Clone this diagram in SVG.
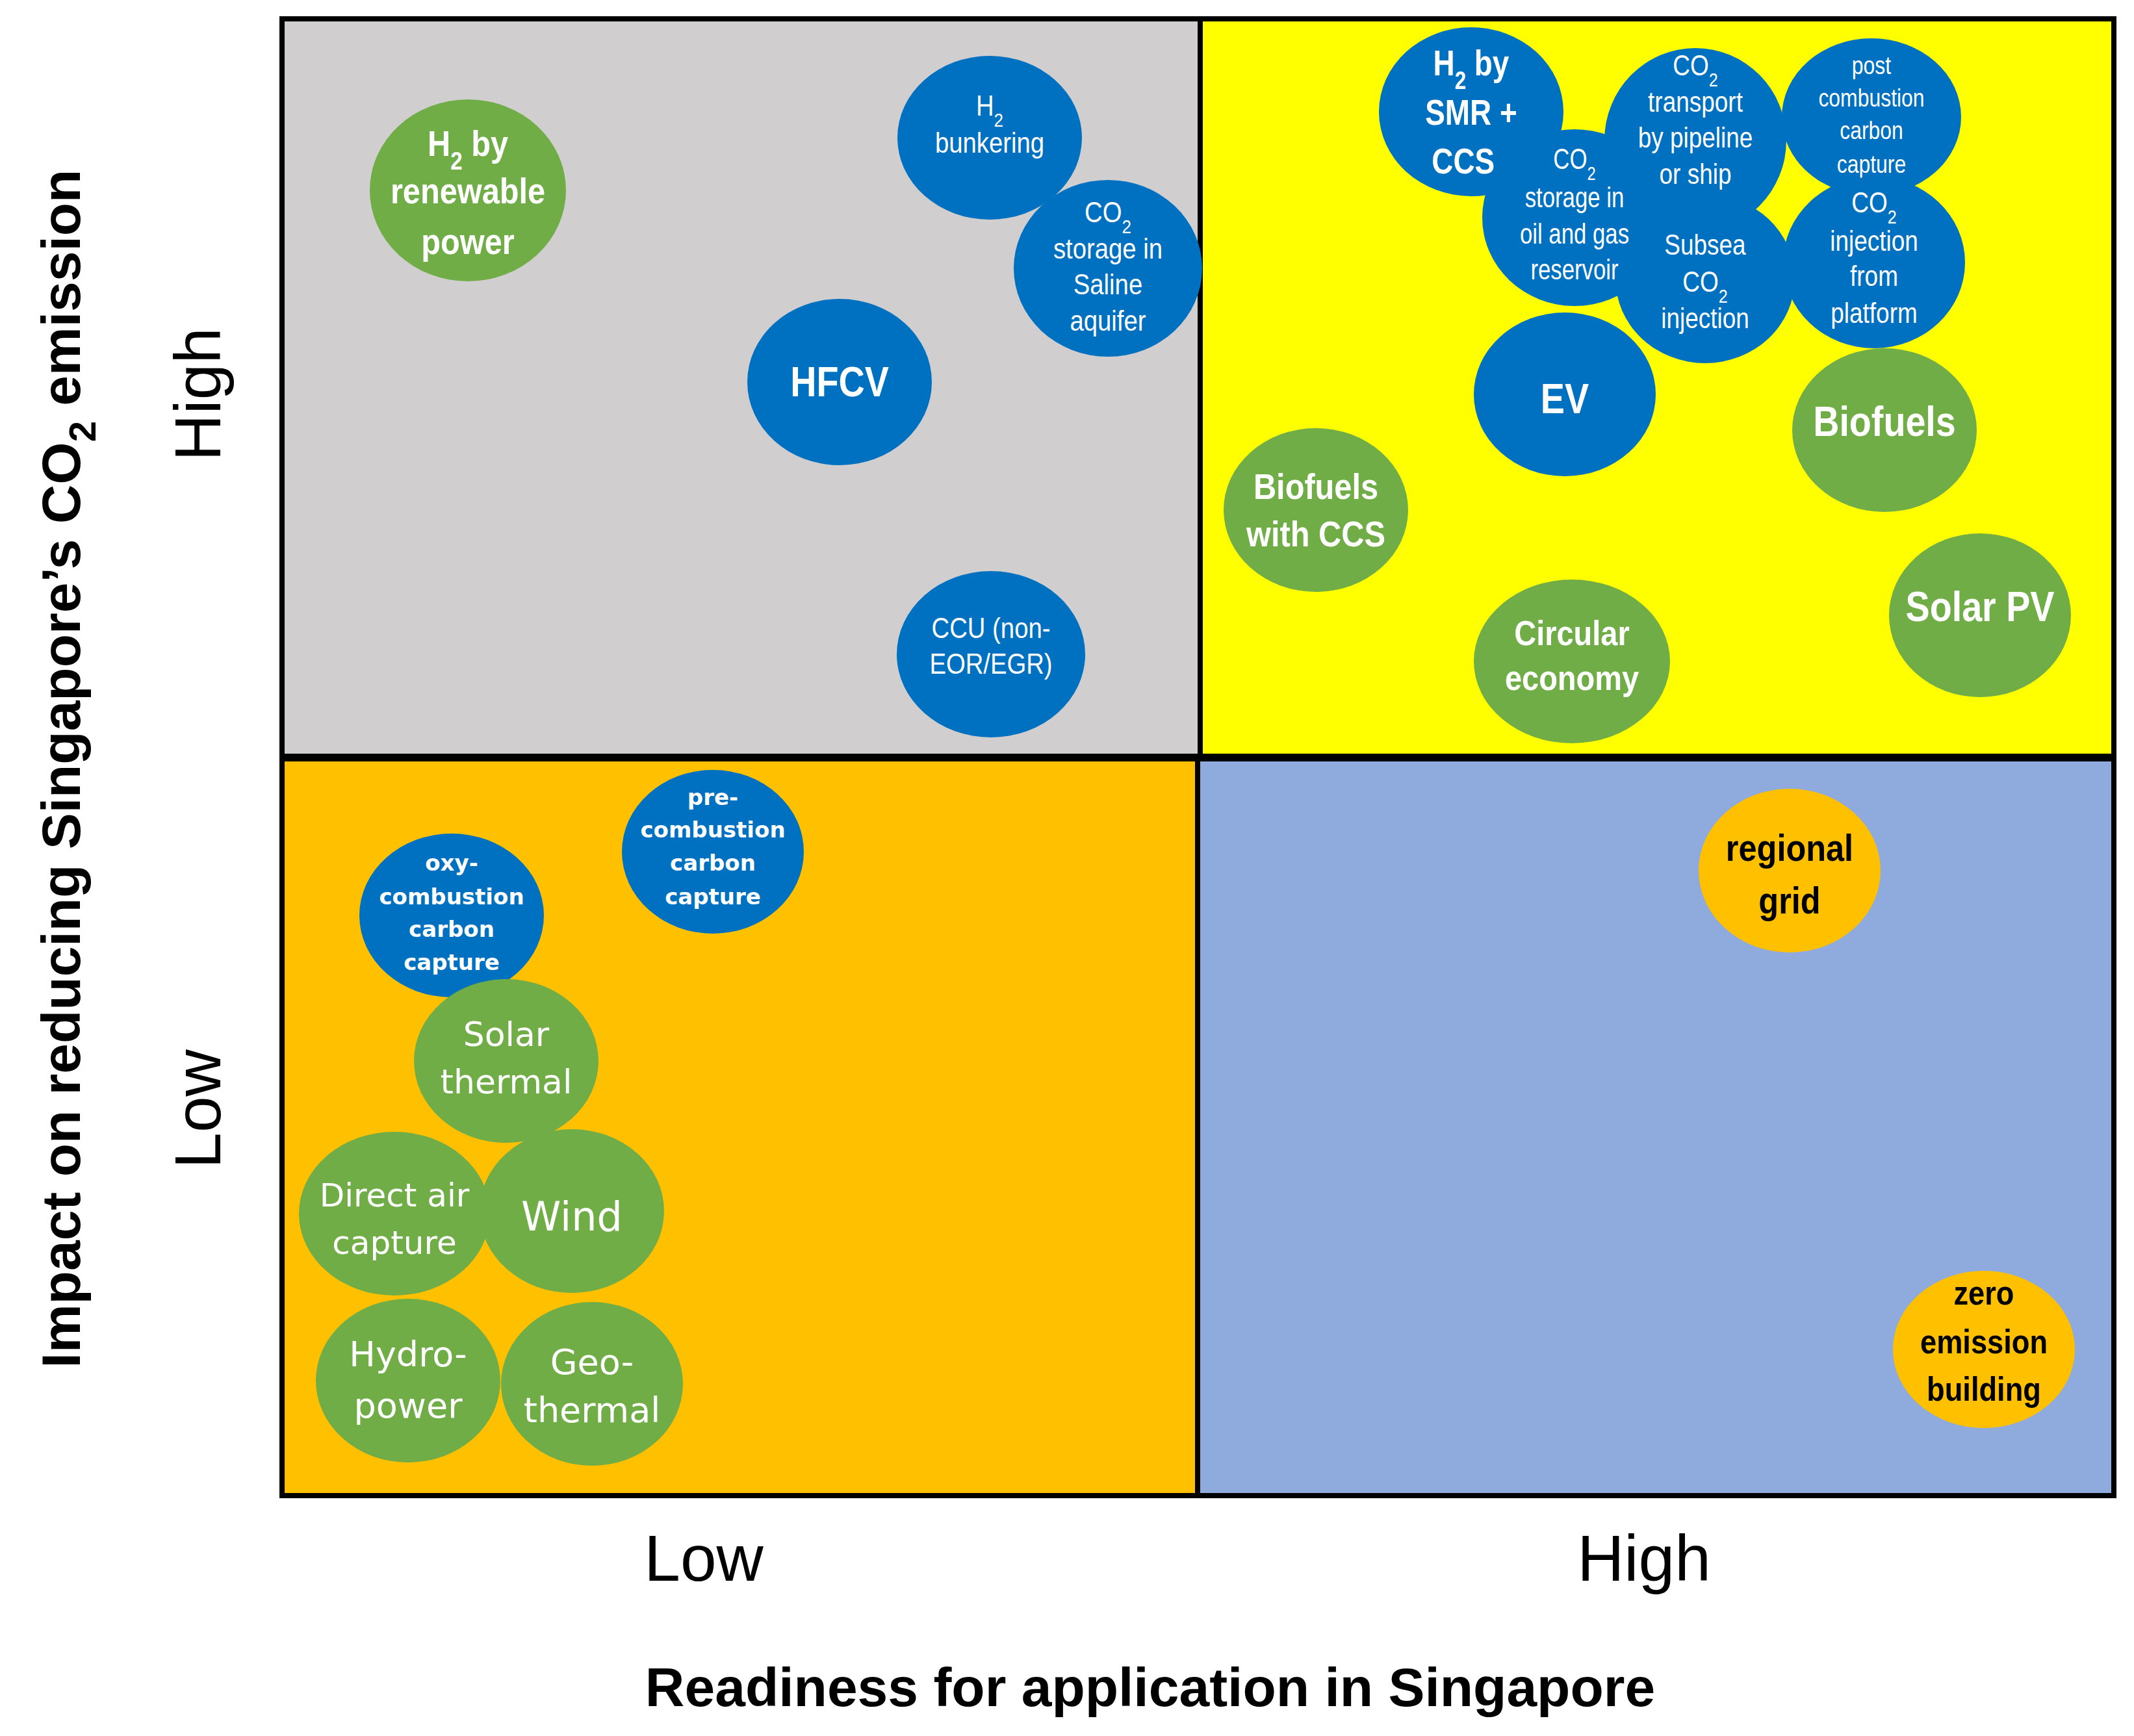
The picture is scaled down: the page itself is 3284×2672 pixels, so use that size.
<svg xmlns="http://www.w3.org/2000/svg" width="3284" height="2672" viewBox="0 0 3284 2672">
<style>
.q{stroke:#000;stroke-width:8}
.g{fill:#70AD47}.b{fill:#0070C0}.o{fill:#FFC000}
text{font-family:"Liberation Sans",Arial,sans-serif;fill:#fff;text-anchor:middle}
.w{font-family:"DejaVu Sans","Liberation Sans",sans-serif}
.k{fill:#000;font-weight:bold}
.ax{fill:#000;font-family:"Liberation Sans",Arial,sans-serif}
</style>
<rect width="3284" height="2672" fill="#fff"/>
<g id="quadrants">
<rect class="q" x="434" y="29" width="1413" height="1135" fill="#D0CECE"/>
<rect class="q" x="1847" y="29" width="1406" height="1135" fill="#FFFF00"/>
<rect class="q" x="434" y="1168" width="1409" height="1134" fill="#FFC000"/>
<rect class="q" x="1843" y="1168" width="1410" height="1134" fill="#8FAADC"/>
</g>
<g id="n1"><ellipse class="g" cx="720" cy="293" rx="151" ry="140"/><g transform="translate(720 0) scale(0.87 1)"><text font-size="56" font-weight="bold"><tspan x="0" y="240">H<tspan baseline-shift="sub" font-size="38">2</tspan> by</tspan><tspan x="0" y="313">renewable</tspan><tspan x="0" y="391">power</tspan></text></g></g>
<g id="n2"><ellipse class="b" cx="1523" cy="212" rx="142" ry="126"/><g transform="translate(1523 0) scale(0.87 1)"><text font-size="44"><tspan x="0" y="178">H<tspan baseline-shift="sub" font-size="30">2</tspan></tspan><tspan x="0" y="235">bunkering</tspan></text></g></g>
<g id="n3"><ellipse class="b" cx="1705" cy="413" rx="145" ry="136"/><g transform="translate(1705 0) scale(0.87 1)"><text font-size="44"><tspan x="0" y="342">CO<tspan baseline-shift="sub" font-size="30">2</tspan></tspan><tspan x="0" y="398">storage in</tspan><tspan x="0" y="453">Saline</tspan><tspan x="0" y="509">aquifer</tspan></text></g></g>
<g id="n4"><ellipse class="b" cx="1292" cy="588" rx="142" ry="128"/><g transform="translate(1292 0) scale(0.87 1)"><text font-size="64" font-weight="bold" x="0" y="610">HFCV</text></g></g>
<g id="n5"><ellipse class="b" cx="1525" cy="1007" rx="145" ry="128"/><g transform="translate(1525 0) scale(0.87 1)"><text font-size="44"><tspan x="0" y="982">CCU (non-</tspan><tspan x="0" y="1037">EOR/EGR)</tspan></text></g></g>
<g id="n7"><ellipse class="b" cx="2609" cy="216" rx="140" ry="142"/><g transform="translate(2609 0) scale(0.84 1)"><text font-size="44"><tspan x="0" y="116">CO<tspan baseline-shift="sub" font-size="30">2</tspan></tspan><tspan x="0" y="172">transport</tspan><tspan x="0" y="227">by pipeline</tspan><tspan x="0" y="283">or ship</tspan></text></g></g>
<g id="n8"><ellipse class="b" cx="2880" cy="180" rx="138" ry="121"/><g transform="translate(2880 0) scale(0.84 1)"><text font-size="38"><tspan x="0" y="114">post</tspan><tspan x="0" y="164">combustion</tspan><tspan x="0" y="214">carbon</tspan><tspan x="0" y="266">capture</tspan></text></g></g>
<g id="n10"><ellipse class="b" cx="2624" cy="429" rx="138" ry="130"/><g transform="translate(2624 0) scale(0.84 1)"><text font-size="44"><tspan x="0" y="392">Subsea</tspan><tspan x="0" y="449">CO<tspan baseline-shift="sub" font-size="30">2</tspan></tspan><tspan x="0" y="505">injection</tspan></text></g></g>
<g id="n11"><ellipse class="b" cx="2884" cy="404" rx="140" ry="132"/><g transform="translate(2884 0) scale(0.84 1)"><text font-size="44"><tspan x="0" y="327">CO<tspan baseline-shift="sub" font-size="30">2</tspan></tspan><tspan x="0" y="386">injection</tspan><tspan x="0" y="440">from</tspan><tspan x="0" y="497">platform</tspan></text></g></g>
<g id="n9"><ellipse class="b" cx="2423" cy="335" rx="142" ry="136"/><g transform="translate(2423 0) scale(0.79 1)"><text font-size="44"><tspan x="0" y="260">CO<tspan baseline-shift="sub" font-size="30">2</tspan></tspan><tspan x="0" y="319">storage in</tspan><tspan x="0" y="375">oil and gas</tspan><tspan x="0" y="430">reservoir</tspan></text></g></g>
<g id="n6"><ellipse class="b" cx="2264" cy="172" rx="142" ry="130"/><g transform="translate(2264 0) scale(0.82 1)"><text font-size="56" font-weight="bold"><tspan x="0" y="116">H<tspan baseline-shift="sub" font-size="38">2</tspan> by</tspan><tspan x="0" y="192">SMR +</tspan><tspan x="-15" y="267">CCS</tspan></text></g></g>
<g id="n12"><ellipse class="b" cx="2408" cy="607" rx="140" ry="126"/><g transform="translate(2408 0) scale(0.87 1)"><text font-size="64" font-weight="bold" x="0" y="636">EV</text></g></g>
<g id="n13"><ellipse class="g" cx="2900" cy="662" rx="142" ry="126"/><g transform="translate(2900 0) scale(0.87 1)"><text font-size="64" font-weight="bold" x="0" y="671">Biofuels</text></g></g>
<g id="n14"><ellipse class="g" cx="2025" cy="785" rx="142" ry="126"/><g transform="translate(2025 0) scale(0.87 1)"><text font-size="56" font-weight="bold"><tspan x="0" y="768">Biofuels</tspan><tspan x="0" y="841">with CCS</tspan></text></g></g>
<g id="n15"><ellipse class="g" cx="2419" cy="1018" rx="151" ry="126"/><g transform="translate(2419 0) scale(0.87 1)"><text font-size="54" font-weight="bold"><tspan x="0" y="993">Circular</tspan><tspan x="0" y="1062">economy</tspan></text></g></g>
<g id="n16"><ellipse class="g" cx="3047" cy="947" rx="140" ry="126"/><g transform="translate(3047 0) scale(0.87 1)"><text font-size="64" font-weight="bold" x="0" y="956">Solar PV</text></g></g>
<g id="n17"><ellipse class="b" cx="1097" cy="1311" rx="140" ry="126"/><text class="w" font-size="34" font-weight="bold"><tspan x="1097" y="1239">pre-</tspan><tspan x="1097" y="1289">combustion</tspan><tspan x="1097" y="1340">carbon</tspan><tspan x="1097" y="1392">capture</tspan></text></g>
<g id="n18"><ellipse class="b" cx="695" cy="1409" rx="142" ry="126"/><text class="w" font-size="34" font-weight="bold"><tspan x="695" y="1340">oxy-</tspan><tspan x="695" y="1392">combustion</tspan><tspan x="695" y="1442">carbon</tspan><tspan x="695" y="1493">capture</tspan></text></g>
<g id="n19"><ellipse class="g" cx="779" cy="1633" rx="142" ry="126"/><text class="w" font-size="52"><tspan x="779" y="1610">Solar</tspan><tspan x="779" y="1683">thermal</tspan></text></g>
<g id="n20"><ellipse class="g" cx="607" cy="1868" rx="147" ry="126"/><text class="w" font-size="50"><tspan x="607" y="1857">Direct air</tspan><tspan x="607" y="1930">capture</tspan></text></g>
<g id="n21"><ellipse class="g" cx="880" cy="1864" rx="142" ry="126"/><text class="w" font-size="62" x="880" y="1894">Wind</text></g>
<g id="n22"><ellipse class="g" cx="628" cy="2125" rx="142" ry="126"/><text class="w" font-size="54"><tspan x="628" y="2103">Hydro-</tspan><tspan x="628" y="2182">power</tspan></text></g>
<g id="n23"><ellipse class="g" cx="911" cy="2130" rx="140" ry="126"/><text class="w" font-size="54"><tspan x="911" y="2115">Geo-</tspan><tspan x="911" y="2189">thermal</tspan></text></g>
<g id="n24"><ellipse class="o" cx="2754" cy="1340" rx="140" ry="126"/><g transform="translate(2754 0) scale(0.87 1)"><text class="k" font-size="58"><tspan x="0" y="1325">regional</tspan><tspan x="0" y="1406">grid</tspan></text></g></g>
<g id="n25"><ellipse class="o" cx="3053" cy="2077" rx="140" ry="121"/><g transform="translate(3053 0) scale(0.87 1)"><text class="k" font-size="52"><tspan x="0" y="2008">zero</tspan><tspan x="0" y="2083">emission</tspan><tspan x="0" y="2156">building</tspan></text></g></g>
<g id="connectors"/>
<g id="axes">
<text class="ax" font-size="100" x="1083" y="2433">Low</text>
<text class="ax" font-size="100" x="2530" y="2433">High</text>
<text class="ax" font-size="84" font-weight="bold" x="1770" y="2626">Readiness for application in Singapore</text>
<text class="ax" font-size="84" font-weight="bold" transform="translate(94 1183) rotate(-90)" x="0" y="0" dominant-baseline="central">Impact on reducing Singapore’s CO<tspan baseline-shift="sub" font-size="58">2</tspan> emission</text>
<text class="ax" font-size="100" transform="translate(304 607) rotate(-90)" x="0" y="0" dominant-baseline="central">High</text>
<text class="ax" font-size="100" transform="translate(304 1707) rotate(-90)" x="0" y="0" dominant-baseline="central">Low</text>
</g>
</svg>
